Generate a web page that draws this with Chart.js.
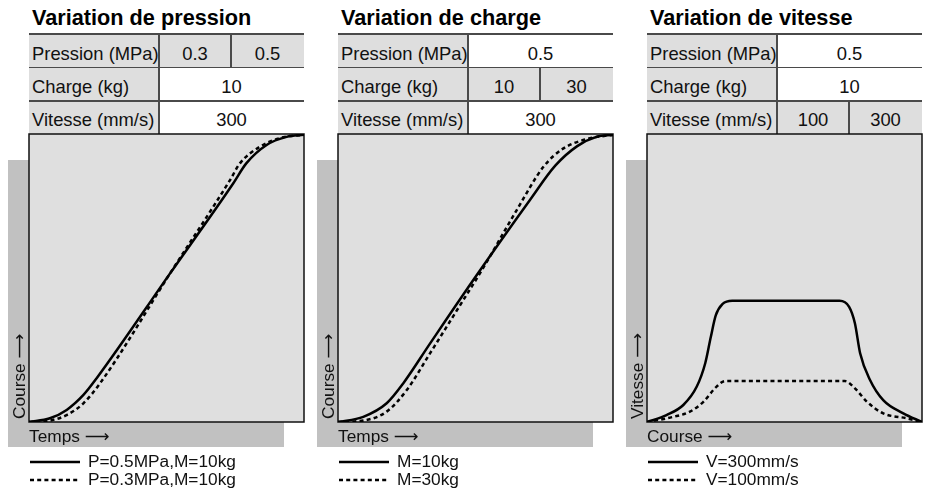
<!DOCTYPE html>
<html>
<head>
<meta charset="utf-8">
<script src="https://cdn.jsdelivr.net/npm/chart.js@4.4.1/dist/chart.umd.min.js"></script>
<style>
  body { margin: 0; background: #fff; font-family: "Liberation Sans", Arial, Helvetica, sans-serif; color: #111; }
  #wrap { position: relative; width: 930px; height: 495px; overflow: hidden; }
  .panel { position: absolute; top: 0; width: 300px; height: 495px; }
  .title { position: absolute; left: 24px; top: 6px; font-size: 21.7px; font-weight: bold; line-height: 24px; white-space: nowrap; color: #000; }
  .cell { position: absolute; font-size: 18.4px; white-space: nowrap; box-sizing: border-box; }
  .line { position: absolute; background: #4a4a4a; }
  canvas { position: absolute; left: 0; top: 132px; }
</style>
</head>
<body>
<div id="wrap"></div>
<script>
// table contents
const rowLabels = ['Pression (MPa)', 'Charge (kg)', 'Vitesse (mm/s)'];
const panelTitles = ['Variation de pression', 'Variation de charge', 'Variation de vitesse'];
const pressionTable = [['0.3', '0.5'], ['10'], ['300']];
const chargeTable = [['0.5'], ['10', '30'], ['300']];
const vitesseTable = [['0.5'], ['10'], ['100', '300']];

// axis titles
const xTitles = ['Temps \u27F6', 'Temps \u27F6', 'Course \u27F6'];
const yTitles = ['Course \u27F6', 'Course \u27F6', 'Vitesse \u27F6'];

// legend labels
const pressionLabels = ['P=0.5MPa,M=10kg', 'P=0.3MPa,M=10kg'];
const chargeLabels = ['M=10kg', 'M=30kg'];
const vitesseLabels = ['V=300mm/s', 'V=100mm/s'];

// curves (normalised 0..1)
const pres05T = [0, 0.076, 0.137, 0.198, 0.246, 0.513, 0.743, 0.79, 0.864, 0.937, 1];
const pres05S = [0, 0.013, 0.042, 0.094, 0.152, 0.516, 0.829, 0.898, 0.962, 0.99, 0.997];
const pres03T = [0, 0.076, 0.137, 0.198, 0.258, 0.513, 0.731, 0.767, 0.84, 0.925, 1];
const pres03S = [0, 0.005, 0.024, 0.065, 0.134, 0.516, 0.84, 0.898, 0.956, 0.989, 0.997];

const charge10T = [0, 0.092, 0.177, 0.237, 0.335, 0.492, 0.698, 0.79, 0.87, 0.94, 1];
const charge10S = [0, 0.018, 0.065, 0.134, 0.273, 0.493, 0.771, 0.89, 0.958, 0.99, 0.997];
const charge30T = [0, 0.092, 0.177, 0.25, 0.335, 0.456, 0.528, 0.65, 0.747, 0.82, 0.916, 1];
const charge30S = [0, 0.005, 0.036, 0.111, 0.239, 0.424, 0.535, 0.736, 0.886, 0.95, 0.985, 0.997];

const vit300X = [0, 0.071, 0.132, 0.181, 0.212, 0.232, 0.25, 0.275, 0.31, 0.7, 0.735, 0.756, 0.775, 0.811, 0.859, 0.932, 1];
const vit300V = [0, 0.024, 0.059, 0.123, 0.205, 0.295, 0.37, 0.41, 0.421, 0.421, 0.4, 0.343, 0.239, 0.146, 0.076, 0.03, 0];
const vit100X = [0, 0.096, 0.156, 0.205, 0.253, 0.284, 0.72, 0.756, 0.8, 0.859, 0.944, 1];
const vit100V = [0, 0.018, 0.036, 0.07, 0.123, 0.142, 0.142, 0.117, 0.07, 0.03, 0.013, 0];

const zip = (xs, ys) => xs.map((x, i) => ({ x: x, y: ys[i] }));

const wrap = document.getElementById('wrap');

function addDiv(parent, cls, css, text) {
  const d = document.createElement('div');
  d.className = cls;
  Object.assign(d.style, css);
  if (text !== undefined) d.textContent = text;
  parent.appendChild(d);
  return d;
}

function buildTable(panel, values) {
  const left = 21, top = 34, rowH = 33.4, labW = 130, width = 275;
  rowLabels.forEach((lab, r) => {
    const y = top + r * rowH;
    addDiv(panel, 'cell', { left: left + 'px', top: y + 'px', width: labW + 'px', height: rowH + 'px', background: '#dedede' });
    addDiv(panel, 'cell', { left: (left + 3) + 'px', top: (y + 2.6) + 'px', lineHeight: rowH + 'px' }, lab);
    const vals = values[r];
    const vx = left + labW, vw = width - labW;
    if (vals.length === 2) {
      const w1 = 72;
      addDiv(panel, 'cell', { left: vx + 'px', top: y + 'px', width: vw + 'px', height: rowH + 'px', background: '#dedede' });
      addDiv(panel, 'cell', { left: vx + 'px', top: (y + 2.6) + 'px', width: w1 + 'px', lineHeight: rowH + 'px', textAlign: 'center' }, vals[0]);
      addDiv(panel, 'cell', { left: (vx + w1) + 'px', top: (y + 2.6) + 'px', width: (vw - w1) + 'px', lineHeight: rowH + 'px', textAlign: 'center' }, vals[1]);
      addDiv(panel, 'line', { left: (vx + w1 - 0.75) + 'px', top: y + 'px', width: '1.5px', height: rowH + 'px' });
    } else {
      addDiv(panel, 'cell', { left: vx + 'px', top: (y + 2.6) + 'px', width: vw + 'px', lineHeight: rowH + 'px', textAlign: 'center' }, vals[0]);
    }
    addDiv(panel, 'line', { left: left + 'px', top: (y - 0.75) + 'px', width: width + 'px', height: '1.5px' });
  });
  addDiv(panel, 'line', { left: (left + labW - 0.75) + 'px', top: top + 'px', width: '1.5px', height: (3 * rowH) + 'px' });
}

const decor = {
  id: 'decor',
  beforeDraw(chart) {
    const { ctx, chartArea: a } = chart;
    ctx.save();
    ctx.fillStyle = '#c1c1c1';
    ctx.fillRect(0, a.top + 26, a.left, a.bottom + 25 - (a.top + 26));
    ctx.fillRect(0, a.bottom, a.right - 20, 25);
    ctx.fillStyle = '#dfdfdf';
    ctx.fillRect(a.left, a.top, a.width, a.height);
    ctx.strokeStyle = '#111';
    ctx.lineWidth = 1.5;
    ctx.strokeRect(a.left, a.top, a.width, a.height);

    const o = chart.options.plugins.decor;
    ctx.fillStyle = '#111';
    ctx.font = '17.3px "Liberation Sans", Arial, "DejaVu Sans", sans-serif';
    ctx.textAlign = 'left';
    ctx.textBaseline = 'alphabetic';
    ctx.fillText(o.xTitle, a.left, a.bottom + 19.5);
    ctx.save();
    ctx.translate(a.left - 4, a.bottom - 3);
    ctx.rotate(-Math.PI / 2);
    ctx.fillText(o.yTitle, 0, 0);
    ctx.restore();

    // legend
    chart.data.datasets.forEach((ds, i) => {
      const ly = a.bottom + 40 + i * 18;
      ctx.save();
      ctx.strokeStyle = ds.borderColor;
      ctx.lineWidth = ds.borderWidth;
      ctx.setLineDash(ds.borderDash || []);
      ctx.beginPath();
      ctx.moveTo(a.left + 1, ly);
      ctx.lineTo(a.left + 51, ly);
      ctx.stroke();
      ctx.restore();
      ctx.fillText(ds.label, a.left + 59, ly + 4.5);
    });
    ctx.restore();
  }
};

function makeChart(i, table, labels, solid, dashed) {
  const panel = addDiv(wrap, 'panel', { left: (8 + 309 * i) + 'px' });
  addDiv(panel, 'title', {}, panelTitles[i]);
  buildTable(panel, table);
  const cv = document.createElement('canvas');
  cv.width = 300;
  cv.height = 363;
  cv.style.width = '300px';
  cv.style.height = '363px';
  panel.appendChild(cv);
  new Chart(cv, {
    type: 'line',
    data: {
      datasets: [
        { label: labels[0], data: solid, borderColor: '#000', borderWidth: 2.5, pointRadius: 0, cubicInterpolationMode: 'monotone' },
        { label: labels[1], data: dashed, borderColor: '#000', borderWidth: 2.5, borderDash: [4, 3.2], pointRadius: 0, cubicInterpolationMode: 'monotone' }
      ]
    },
    options: {
      responsive: false,
      animation: false,
      devicePixelRatio: 1,
      layout: { padding: { left: 21, right: 4, top: 2, bottom: 73 } },
      scales: {
        x: { type: 'linear', min: 0, max: 1, display: false },
        y: { type: 'linear', min: 0, max: 1, display: false }
      },
      plugins: {
        legend: { display: false },
        tooltip: { enabled: false },
        decor: { xTitle: xTitles[i], yTitle: yTitles[i] }
      }
    },
    plugins: [decor]
  });
}

makeChart(0, pressionTable, pressionLabels, zip(pres05T, pres05S), zip(pres03T, pres03S));
makeChart(1, chargeTable, chargeLabels, zip(charge10T, charge10S), zip(charge30T, charge30S));
makeChart(2, vitesseTable, vitesseLabels, zip(vit300X, vit300V), zip(vit100X, vit100V));
</script>
</body>
</html>
